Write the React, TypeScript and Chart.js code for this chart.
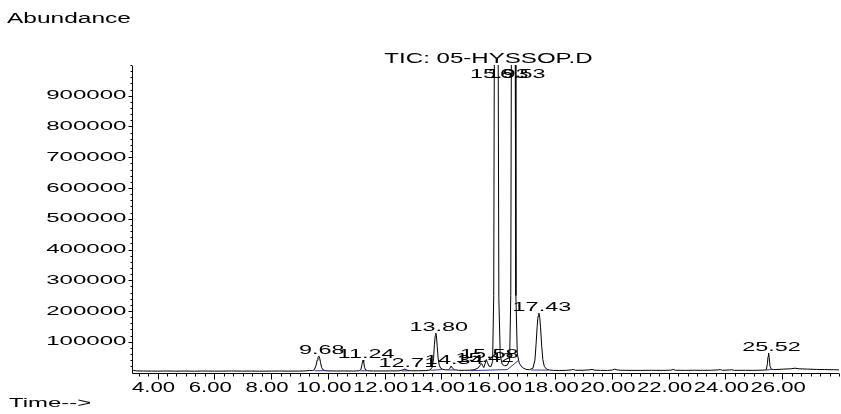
import React, { useEffect, useRef } from "react";
import { Chart, registerables } from "chart.js";
Chart.register(...registerables);

// Retention time (min) and abundance of the TIC trace
const times = [
  3.10, 3.16, 3.25, 3.50, 3.80, 4.00, 4.30, 4.60, 5.00, 5.30, 5.60, 6.00, 6.30, 6.60, 7.00, 7.30, 7.60, 8.00, 8.30, 8.60, 9.00, 9.20, 9.35, 9.45,
  9.52, 9.58, 9.62, 9.65, 9.68, 9.71, 9.74, 9.78, 9.83, 9.90, 10.00, 10.30, 10.60, 10.90, 11.10, 11.16, 11.20, 11.22, 11.24, 11.26, 11.29, 11.33,
  11.40, 11.60, 11.90, 12.20, 12.50, 12.62, 12.67, 12.71, 12.75, 12.82, 12.95, 13.20, 13.45, 13.60, 13.68, 13.72, 13.75, 13.78, 13.80, 13.82,
  13.85, 13.88, 13.92, 13.97, 14.05, 14.15, 14.25, 14.30, 14.34, 14.38, 14.45, 14.60, 14.80, 15.00, 15.15, 15.28, 15.35, 15.39, 15.42, 15.45,
  15.49, 15.54, 15.58, 15.62, 15.67, 15.74, 15.80, 15.84, 15.87, 15.90, 15.93, 15.96, 15.99, 16.02, 16.07, 16.14, 16.22, 16.32, 16.40, 16.44,
  16.47, 16.50, 16.53, 16.56, 16.59, 16.62, 16.67, 16.74, 16.85, 16.98, 17.10, 17.22, 17.29, 17.33, 17.37, 17.40, 17.43, 17.46, 17.49, 17.53,
  17.57, 17.62, 17.70, 17.80, 17.95, 18.15, 18.40, 18.58, 18.64, 18.72, 18.95, 19.20, 19.30, 19.40, 19.60, 19.85, 20.02, 20.10, 20.18, 20.30,
  20.60, 21.00, 21.40, 21.80, 22.08, 22.16, 22.24, 22.60, 22.90, 23.20, 23.50, 23.75, 23.82, 23.90, 24.15, 24.22, 24.32, 24.70, 25.00, 25.30,
  25.44, 25.48, 25.50, 25.52, 25.54, 25.57, 25.62, 25.70, 25.85, 26.05, 26.30, 26.45, 26.60, 26.90, 27.20, 27.50, 27.80, 28.00,
];
const abundance = [
  9000, 6500, 5200, 4800, 4600, 4500, 4900, 4400, 4700, 4300, 4800, 4400, 4600, 4900, 4500, 4700, 4300, 4600, 4800, 4500, 4700, 5200, 6500, 6000,
  9000, 22000, 40000, 50000, 53500, 47000, 32000, 16000, 8500, 6000, 5200, 4900, 5000, 4800, 5500, 9000, 26000, 36000, 40500, 34000, 17000, 8000,
  5600, 5000, 4900, 5100, 5400, 8000, 10000, 11000, 9500, 6500, 5500, 5800, 6200, 8000, 18000, 45000, 90000, 120000, 128000, 120000,
  85000, 48000, 24000, 14000, 10000, 8500, 9000, 14000, 21000, 15000, 9000, 7200, 7000, 7500, 9000, 14000, 22000, 27000, 29000, 22000,
  16000, 30000, 42000, 32000, 21000, 19000, 35000, 250000, 1400000, 2500000, 2600000, 2450000, 1300000, 240000, 55000, 26000, 22000, 24000, 40000, 250000,
  1400000, 2350000, 2450000, 2300000, 1300000, 250000, 60000, 30000, 16000, 10000, 9000, 14000, 40000, 90000, 150000, 183000, 193000, 180000, 145000, 85000,
  42000, 20000, 11000, 8000, 7000, 6600, 7000, 8500, 10000, 7400, 7200, 8500, 10000, 7600, 7000, 6700, 8000, 11000, 8500, 7300,
  7000, 6800, 7200, 6900, 7600, 10000, 7200, 7000, 7400, 7000, 7300, 8500, 9500, 7200, 8200, 9000, 7000, 7200, 7000, 7600,
  8500, 30000, 52000, 63000, 50000, 20000, 10500, 9500, 10000, 11000, 12000, 14000, 12000, 11000, 10000, 9500, 9000, 8500,
];

// Integrated peak baselines (start/end time and level)
const intStart = [9.52, 11.14, 12.60, 13.62, 14.24, 15.00, 16.32, 17.16, 25.44];
const intEnd = [9.90, 11.36, 12.84, 14.02, 14.46, 16.32, 16.72, 17.78, 25.63];
const intStartVal = [5500, 5400, 5300, 7000, 8000, 6000, 9500, 8000, 8000];
const intEndVal = [6000, 5500, 5500, 9500, 8500, 9500, 40000, 8000, 10000];

// Labelled peaks
const peakTimes = [9.68, 11.24, 12.71, 13.80, 14.34, 15.42, 15.58, 15.93, 16.53, 17.43, 25.52];

// Axis ticks
const xTickValues = [4, 6, 8, 10, 12, 14, 16, 18, 20, 22, 24, 26];
const yTickValues = [100000, 200000, 300000, 400000, 500000, 600000, 700000, 800000, 900000];
const X_MIN = 3.1;
const X_MAX = 28.0;
const Y_MAX = 1000000;

const FONT = '"Liberation Sans", Arial, sans-serif';

function wideText(ctx: CanvasRenderingContext2D, text: string, x: number, y: number, size: number, hscale: number, align: CanvasTextAlign, baseline: CanvasTextBaseline) {
  ctx.save();
  ctx.font = `${size}px ${FONT}`;
  ctx.translate(x, y);
  ctx.scale(hscale, 1);
  ctx.textAlign = align;
  ctx.textBaseline = baseline;
  ctx.fillStyle = "#000";
  ctx.fillText(text, 0, 0);
  ctx.restore();
}

const decorPlugin = {
  id: "decor",
  afterDraw(chart: any) {
    const ctx: CanvasRenderingContext2D = chart.ctx;
    const xs = chart.scales.x;
    const ys = chart.scales.y;
    const area = chart.chartArea;
    const left = Math.round(area.left) + 0.5;
    const bottom = Math.round(area.bottom) + 0.5;
    ctx.save();
    ctx.strokeStyle = "#000";
    ctx.lineWidth = 1;
    ctx.beginPath();
    ctx.moveTo(left, Math.round(area.top) + 1);
    ctx.lineTo(left, bottom);
    ctx.lineTo(Math.round(area.right), bottom);
    ctx.stroke();

    // x ticks: majors with 5 minors between
    ctx.beginPath();
    for (let i = 0; i < xTickValues.length; i++) {
      const v = xTickValues[i];
      for (let k = -3; k < 3; k++) {
        const t = v + (k * 2) / 6;
        if (t < X_MIN || t > X_MAX) continue;
        const px = Math.round(xs.getPixelForValue(t)) + 0.5;
        ctx.moveTo(px, bottom);
        ctx.lineTo(px, bottom + (k === 0 ? 6 : 3));
      }
    }
    const lastX = xTickValues[xTickValues.length - 1];
    for (let k = 3; k <= 6; k++) {
      const t = lastX + (k * 2) / 6;
      if (t > X_MAX) continue;
      const px = Math.round(xs.getPixelForValue(t)) + 0.5;
      ctx.moveTo(px, bottom);
      ctx.lineTo(px, bottom + 3);
    }
    // y ticks: majors every 100000, minors every 20000
    for (let i = 0; i <= yTickValues.length; i++) {
      const base = i < yTickValues.length ? yTickValues[i] : Y_MAX;
      for (let k = 0; k < 5; k++) {
        const v = base - k * 20000;
        if (v <= 0 || v > Y_MAX) continue;
        const py = Math.round(ys.getPixelForValue(v)) + 0.5;
        const major = k === 0 && i < yTickValues.length;
        ctx.moveTo(left, py);
        ctx.lineTo(left - (major ? 4 : 2), py);
      }
    }
    ctx.stroke();
    ctx.restore();

    // tick labels
    yTickValues.forEach((v) => {
      wideText(ctx, String(v), left - 6, ys.getPixelForValue(v), 13, 1.85, "right", "middle");
    });
    xTickValues.forEach((v) => {
      wideText(ctx, v.toFixed(2), xs.getPixelForValue(v) - 4, bottom + 15, 14, 1.58, "center", "middle");
    });

    // titles
    wideText(ctx, "Abundance", 7, 19, 14, 1.75, "left", "middle");
    wideText(ctx, "Time-->", 9, 403, 13.5, 1.77, "left", "middle");
    wideText(ctx, "TIC: 05-HYSSOP.D", (area.left + area.right) / 2 + 3, 59, 14, 1.72, "center", "middle");

    // peak labels
    peakTimes.forEach((pt) => {
      let best = 0;
      let bestD = Infinity;
      for (let i = 0; i < times.length; i++) {
        const d = Math.abs(times[i] - pt);
        if (d < bestD) { bestD = d; best = i; }
      }
      const h = abundance[best];
      const px = xs.getPixelForValue(pt) + 3;
      const py = h >= Y_MAX ? area.top + 13 : ys.getPixelForValue(h) - 2;
      wideText(ctx, pt.toFixed(2), px, py, 13, 1.8, "center", "alphabetic");
    });
  },
};

export default function App() {
  const ref = useRef<HTMLCanvasElement | null>(null);
  useEffect(() => {
    if (!ref.current) return;
    const trace = times.map((t, i) => ({ x: t, y: abundance[i] }));
    const ints: any[] = [];
    intStart.forEach((s, i) => {
      ints.push({ x: s, y: intStartVal[i] });
      ints.push({ x: intEnd[i], y: intEndVal[i] });
      ints.push({ x: intEnd[i], y: null });
    });
    const chart = new Chart(ref.current, {
      type: "line",
      data: {
        datasets: [
          { data: ints, borderColor: "#33339a", borderWidth: 1, pointRadius: 0, spanGaps: false, tension: 0 },
          { data: trace, borderColor: "#000", borderWidth: 1, pointRadius: 0, tension: 0 },
        ],
      },
      options: {
        responsive: false,
        animation: false,
        devicePixelRatio: 1,
        layout: { padding: { left: 132, top: 65, right: 2, bottom: 41.5 } },
        plugins: { legend: { display: false }, tooltip: { enabled: false }, title: { display: false } },
        events: [],
        scales: {
          x: { type: "linear", min: X_MIN, max: X_MAX, display: false },
          y: { type: "linear", min: 0, max: Y_MAX, display: false },
        },
      },
      plugins: [decorPlugin],
    });
    return () => chart.destroy();
  }, []);
  return (
    <div style={{ position: "fixed", left: 0, top: 0, width: 841, height: 414, background: "#fff" }}>
      <canvas ref={ref} width={841} height={414} style={{ width: 841, height: 414, display: "block" }} />
    </div>
  );
}
